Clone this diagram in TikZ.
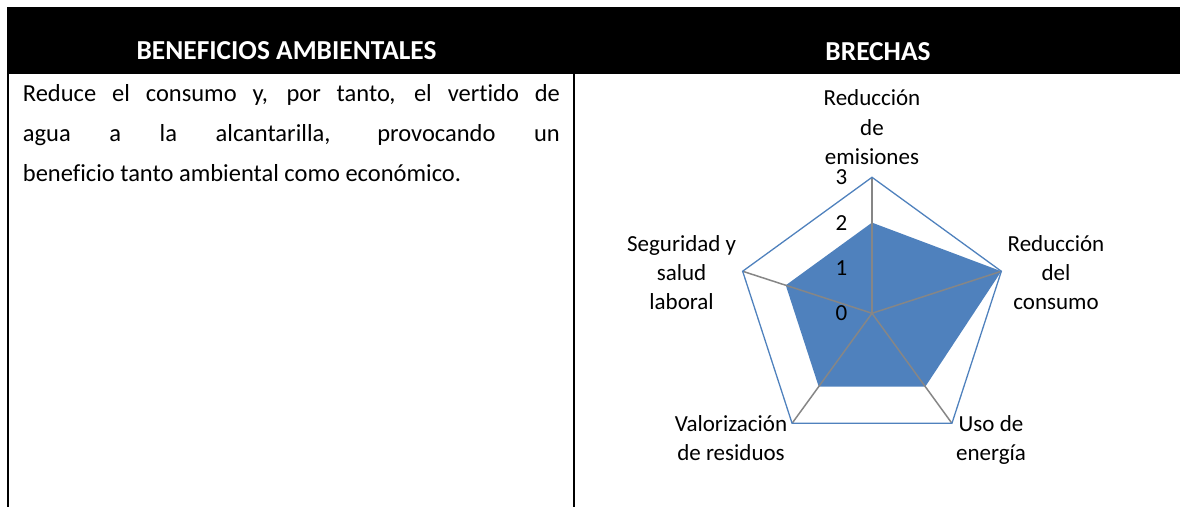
\documentclass[tikz,border=0pt]{standalone}
\usepackage{fontspec}
\setmainfont{Carlito}[Ligatures=NoCommon]
\usetikzlibrary{positioning}
\definecolor{serie}{HTML}{4F81BD}
\definecolor{radio}{HTML}{868686}
\tikzstyle{hdr}=[text=white,font=\fontsize{27.4bp}{32bp}\selectfont\bfseries,anchor=base,inner sep=0pt]
\tikzstyle{txt}=[font=\fontsize{24.5bp}{40bp}\selectfont,text width=537bp,align=justify,anchor=base west,inner sep=0pt]
\tikzstyle{eje}=[font=\fontsize{23bp}{29.3bp}\selectfont,align=center,anchor=base,inner sep=0pt]
\tikzstyle{tck}=[font=\fontsize{23bp}{29.3bp}\selectfont,anchor=east,inner sep=0pt]

\begin{document}
\begin{tikzpicture}[x=1bp,y=1bp]
\useasboundingbox (0,0) rectangle (1180,507);
% table
\fill[black] (7,433) rectangle (1180,500);
\draw[line width=2.2bp] (8,0) -- (8,433);
\draw[line width=2.3bp] (574,0) -- (574,433);
\node[hdr] (hben) at (286.5,447) {BENEFICIOS AMBIENTALES};
\node[hdr] (hbre) at (878,446) {BRECHAS};
\node[txt] (desc) at (22.7,405.3) {Reduce el consumo y, por tanto, el vertido de\linebreak agua a la alcantarilla, provocando un\linebreak beneficio tanto ambiental como económico.};
% radar
\coordinate (c) at (872,193.7);
\foreach \a/\v [count=\i] in {90/2,18/3,-54/2,-126/2,162/2} {
    \coordinate (v\i) at ([shift={(\a:136)}]c);
    \coordinate (d\i) at ([shift={(\a:{136/3*\v})}]c);}
\fill[serie] (d1) -- (d2) -- (d3) -- (d4) -- (d5) -- cycle;
\foreach \i in {1,...,5} \draw[radio,line width=1.5bp] (c) -- (v\i);
\draw[serie,line width=1.3bp] (v1) -- (v2) -- (v3) -- (v4) -- (v5) -- cycle;
\foreach \k in {0,...,3} \node[tck] (k\k) at (847.5,{193.7+45.33*\k}) {\k};
\node[eje] (lemi) at (872,342.6) {Reducción\\de\\emisiones};
\node[eje] (lcon) at (1056,197) {Reducción\\del\\consumo};
\node[eje] (lsal) at (681.6,197) {Seguridad y\\salud\\laboral};
\node[eje] (lres) at (731,46.5) {Valorización\\de residuos};
\node[eje] (lene) at (991,46.5) {Uso de\\energía};
\end{tikzpicture}
\end{document}
